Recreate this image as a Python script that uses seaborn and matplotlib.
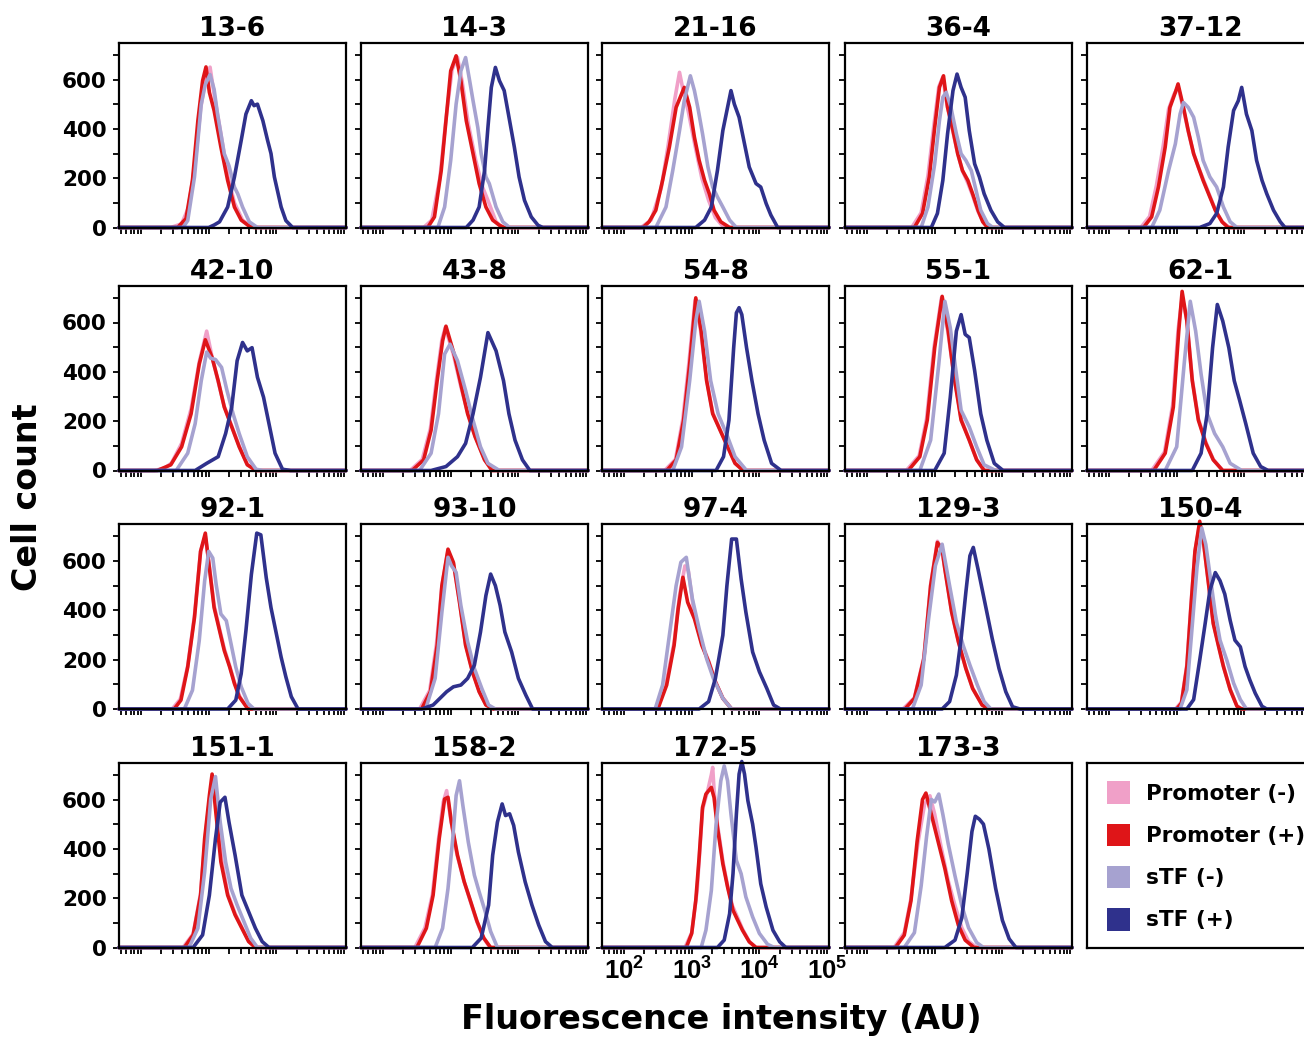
import numpy as np
import pandas as pd
import matplotlib
matplotlib.use("Agg")
import matplotlib.pyplot as plt
import seaborn as sns
from matplotlib.patches import Patch
from matplotlib.ticker import LogLocator, NullFormatter, FixedLocator
from matplotlib import font_manager

# ---------------------------------------------------------------- data
CLONES = ["13-6", "14-3", "21-16", "36-4", "37-12",
          "42-10", "43-8", "54-8", "55-1", "62-1",
          "92-1", "93-10", "97-4", "129-3", "150-4",
          "151-1", "158-2", "172-5", "173-3"]

SERIES = ["Promoter (-)", "Promoter (+)", "sTF (-)", "sTF (+)"]
COLORS = ["#F0A0C8", "#DF1518", "#A6A2D0", "#2F318C"]

# histogram outlines: (log10 fluorescence, cell count)
PROMOTER_NEG = {
    "13-6": [(2.44, 0), (2.6, 15), (2.7, 80), (2.8, 260), (2.88, 480), (2.95, 600), (3.02, 650), (3.08, 540), (3.18, 380), (3.28, 210), (3.38, 100), (3.5, 30), (3.62, 5), (3.7, 0)],
    "14-3": [(2.6, 0), (2.72, 30), (2.84, 200), (2.93, 440), (3.02, 640), (3.1, 690), (3.17, 590), (3.26, 420), (3.37, 272), (3.47, 164), (3.55, 110), (3.67, 23), (3.77, 0)],
    "21-16": [(2.25, 0), (2.4, 30), (2.55, 160), (2.65, 330), (2.75, 520), (2.82, 629), (2.87, 560), (2.95, 470), (3.05, 330), (3.15, 200), (3.25, 110), (3.35, 40), (3.45, 8), (3.55, 0)],
    "36-4": [(2.66, 0), (2.8, 60), (2.9, 210), (2.99, 420), (3.06, 570), (3.12, 610), (3.18, 500), (3.26, 400), (3.34, 300), (3.41, 230), (3.49, 180), (3.56, 130), (3.64, 65), (3.72, 20), (3.8, 0)],
    "37-12": [(2.47, 0), (2.6, 45), (2.7, 170), (2.8, 330), (2.88, 480), (2.96, 540), (3.02, 570), (3.1, 480), (3.17, 390), (3.25, 300), (3.32, 245), (3.4, 190), (3.48, 135), (3.58, 65), (3.68, 20), (3.78, 0)],
    "42-10": [(2.2, 0), (2.35, 10), (2.45, 30), (2.6, 110), (2.74, 250), (2.86, 440), (2.97, 565), (3.05, 460), (3.14, 360), (3.23, 260), (3.34, 180), (3.45, 100), (3.57, 25), (3.7, 0)],
    "43-8": [(2.4, 0), (2.58, 45), (2.7, 170), (2.79, 370), (2.87, 530), (2.92, 580), (3.04, 470), (3.15, 340), (3.25, 235), (3.36, 140), (3.5, 45), (3.62, 0)],
    "54-8": [(2.6, 0), (2.76, 45), (2.87, 210), (2.96, 440), (3.05, 690), (3.13, 570), (3.22, 370), (3.31, 235), (3.42, 165), (3.53, 98), (3.64, 30), (3.76, 0)],
    "55-1": [(2.58, 0), (2.77, 60), (2.88, 210), (2.99, 500), (3.1, 700), (3.19, 570), (3.28, 395), (3.39, 210), (3.51, 125), (3.62, 45), (3.74, 0)],
    "62-1": [(2.63, 0), (2.82, 75), (2.94, 265), (3.02, 570), (3.08, 700), (3.15, 610), (3.23, 370), (3.32, 210), (3.43, 115), (3.54, 45), (3.68, 0)],
    "92-1": [(2.46, 0), (2.58, 40), (2.69, 175), (2.79, 380), (2.88, 640), (2.95, 700), (3.01, 580), (3.08, 420), (3.16, 325), (3.23, 245), (3.31, 175), (3.38, 108), (3.46, 50), (3.58, 0)],
    "93-10": [(2.54, 0), (2.69, 75), (2.79, 265), (2.87, 500), (2.96, 640), (3.04, 590), (3.13, 435), (3.22, 262), (3.32, 155), (3.42, 72), (3.52, 18), (3.63, 0)],
    "97-4": [(2.47, 0), (2.62, 100), (2.74, 270), (2.82, 460), (2.9, 580), (2.95, 560), (3.04, 380), (3.15, 265), (3.25, 195), (3.35, 112), (3.46, 44), (3.59, 0)],
    "129-3": [(2.53, 0), (2.7, 45), (2.84, 210), (2.94, 505), (3.04, 680), (3.1, 650), (3.15, 570), (3.25, 395), (3.35, 275), (3.46, 166), (3.56, 85), (3.7, 17), (3.8, 0)],
    "150-4": [(2.98, 0), (3.07, 28), (3.15, 180), (3.21, 420), (3.27, 640), (3.34, 750), (3.4, 665), (3.47, 510), (3.54, 350), (3.62, 256), (3.69, 175), (3.79, 80), (3.89, 12), (3.96, 0)],
    "151-1": [(2.62, 0), (2.77, 55), (2.88, 220), (2.95, 450), (3.02, 620), (3.07, 680), (3.12, 560), (3.19, 360), (3.28, 220), (3.39, 138), (3.49, 82), (3.59, 26), (3.69, 0)],
    "158-2": [(2.47, 0), (2.62, 80), (2.73, 215), (2.82, 440), (2.89, 590), (2.94, 636), (3.0, 520), (3.09, 380), (3.19, 275), (3.27, 205), (3.38, 110), (3.48, 40), (3.58, 0)],
    "172-5": [(2.9, 0), (3.0, 60), (3.08, 230), (3.16, 560), (3.24, 640), (3.29, 700), (3.31, 730), (3.33, 640), (3.38, 500), (3.46, 350), (3.53, 250), (3.6, 170), (3.68, 120), (3.75, 75), (3.85, 25), (3.95, 0)],
    "173-3": [(2.4, 0), (2.55, 60), (2.65, 200), (2.75, 420), (2.85, 580), (2.93, 615), (3.0, 540), (3.1, 400), (3.2, 270), (3.3, 170), (3.4, 80), (3.5, 25), (3.62, 0)],
}

PROMOTER_POS = {
    "13-6": [(2.54, 0), (2.665, 36), (2.76, 191), (2.84, 433), (2.91, 595), (2.96, 651), (3.01, 548), (3.08, 474), (3.18, 326), (3.28, 191), (3.38, 83), (3.48, 30), (3.6, 5), (3.67, 0)],
    "14-3": [(2.66, 0), (2.76, 43), (2.86, 231), (2.93, 433), (3.0, 635), (3.08, 696), (3.15, 595), (3.23, 433), (3.33, 299), (3.42, 178), (3.52, 83), (3.62, 30), (3.72, 9), (3.79, 0)],
    "21-16": [(2.28, 0), (2.37, 23), (2.47, 70), (2.57, 191), (2.67, 326), (2.77, 487), (2.89, 568), (2.97, 487), (3.04, 366), (3.11, 272), (3.19, 191), (3.26, 137), (3.33, 70), (3.43, 23), (3.56, 0)],
    "36-4": [(2.7, 0), (2.82, 57), (2.92, 205), (3.0, 406), (3.07, 568), (3.13, 615), (3.19, 487), (3.27, 393), (3.34, 299), (3.41, 231), (3.49, 191), (3.56, 137), (3.64, 70), (3.71, 23), (3.78, 0)],
    "37-12": [(2.51, 0), (2.63, 43), (2.73, 164), (2.83, 326), (2.9, 487), (2.98, 548), (3.02, 582), (3.1, 487), (3.17, 393), (3.25, 299), (3.32, 245), (3.39, 191), (3.47, 137), (3.57, 70), (3.67, 23), (3.76, 0)],
    "42-10": [(2.24, 0), (2.44, 23), (2.6, 96), (2.74, 230), (2.86, 431), (2.95, 530), (3.05, 458), (3.14, 364), (3.23, 257), (3.34, 177), (3.45, 96), (3.57, 23), (3.7, 0)],
    "43-8": [(2.43, 0), (2.6, 43), (2.71, 163), (2.8, 364), (2.88, 525), (2.93, 585), (3.05, 472), (3.16, 338), (3.25, 230), (3.36, 137), (3.5, 43), (3.61, 0)],
    "54-8": [(2.63, 0), (2.77, 43), (2.88, 204), (2.97, 431), (3.06, 700), (3.14, 565), (3.22, 364), (3.31, 230), (3.42, 163), (3.53, 96), (3.64, 29), (3.76, 0)],
    "55-1": [(2.61, 0), (2.78, 56), (2.89, 204), (3.0, 498), (3.11, 706), (3.2, 565), (3.28, 391), (3.39, 204), (3.51, 123), (3.62, 43), (3.73, 0)],
    "62-1": [(2.66, 0), (2.83, 70), (2.95, 257), (3.03, 565), (3.08, 726), (3.15, 606), (3.23, 364), (3.32, 204), (3.43, 110), (3.54, 43), (3.68, 0)],
    "92-1": [(2.49, 0), (2.59, 36), (2.69, 170), (2.79, 371), (2.88, 639), (2.95, 713), (3.01, 572), (3.08, 411), (3.16, 318), (3.23, 237), (3.31, 170), (3.38, 103), (3.45, 50), (3.58, 0)],
    "93-10": [(2.57, 0), (2.7, 70), (2.8, 258), (2.87, 500), (2.96, 648), (3.04, 594), (3.13, 433), (3.22, 258), (3.32, 151), (3.42, 70), (3.52, 16), (3.63, 0)],
    "97-4": [(2.5, 0), (2.63, 97), (2.74, 258), (2.8, 406), (2.87, 534), (2.94, 433), (3.04, 366), (3.15, 258), (3.25, 191), (3.35, 110), (3.46, 43), (3.59, 0)],
    "129-3": [(2.56, 0), (2.7, 43), (2.84, 204), (2.94, 500), (3.04, 675), (3.11, 648), (3.15, 567), (3.25, 393), (3.35, 272), (3.46, 164), (3.56, 83), (3.7, 16), (3.8, 0)],
    "150-4": [(3.0, 0), (3.07, 24), (3.15, 172), (3.21, 413), (3.27, 640), (3.34, 761), (3.4, 667), (3.47, 507), (3.54, 346), (3.62, 252), (3.69, 172), (3.79, 78), (3.89, 11), (3.96, 0)],
    "151-1": [(2.64, 0), (2.77, 51), (2.88, 212), (2.94, 441), (3.01, 616), (3.05, 703), (3.11, 535), (3.18, 347), (3.28, 212), (3.39, 132), (3.49, 78), (3.59, 24), (3.69, 0)],
    "158-2": [(2.5, 0), (2.64, 78), (2.74, 212), (2.83, 441), (2.91, 602), (2.96, 609), (3.01, 508), (3.1, 374), (3.2, 266), (3.28, 199), (3.39, 105), (3.49, 38), (3.59, 0)],
    "172-5": [(2.92, 0), (3.0, 57), (3.06, 191), (3.11, 366), (3.16, 568), (3.21, 622), (3.29, 649), (3.33, 608), (3.38, 487), (3.46, 339), (3.53, 245), (3.61, 151), (3.68, 110), (3.75, 70), (3.85, 23), (3.95, 0)],
    "173-3": [(2.42, 0), (2.55, 50), (2.65, 190), (2.74, 430), (2.82, 600), (2.87, 626), (2.95, 540), (3.05, 430), (3.15, 320), (3.25, 190), (3.35, 90), (3.45, 30), (3.58, 0)],
}

STF_NEG = {
    "13-6": [(2.62, 0), (2.69, 28), (2.79, 205), (2.89, 500), (2.95, 580), (3.02, 620), (3.08, 560), (3.13, 460), (3.23, 299), (3.3, 250), (3.38, 164), (3.43, 136), (3.5, 83), (3.6, 23), (3.72, 0)],
    "14-3": [(2.81, 0), (2.91, 83), (3.0, 272), (3.08, 500), (3.15, 635), (3.22, 689), (3.28, 595), (3.33, 514), (3.4, 406), (3.45, 299), (3.52, 205), (3.57, 178), (3.67, 83), (3.77, 23), (3.87, 0)],
    "21-16": [(2.47, 0), (2.62, 83), (2.72, 231), (2.82, 393), (2.89, 514), (2.98, 615), (3.04, 555), (3.09, 487), (3.16, 380), (3.24, 245), (3.31, 164), (3.38, 124), (3.46, 83), (3.56, 30), (3.66, 0)],
    "36-4": [(2.8, 0), (2.9, 83), (3.0, 258), (3.07, 433), (3.12, 528), (3.17, 548), (3.24, 487), (3.32, 380), (3.39, 299), (3.46, 272), (3.54, 231), (3.61, 151), (3.68, 70), (3.78, 16), (3.86, 0)],
    "37-12": [(2.63, 0), (2.75, 70), (2.88, 231), (2.98, 339), (3.05, 460), (3.1, 507), (3.17, 487), (3.25, 447), (3.32, 366), (3.39, 272), (3.49, 205), (3.59, 164), (3.69, 83), (3.79, 23), (3.89, 0)],
    "42-10": [(2.52, 0), (2.69, 70), (2.8, 190), (2.89, 364), (2.97, 480), (3.03, 455), (3.1, 450), (3.19, 418), (3.27, 324), (3.36, 230), (3.45, 150), (3.57, 56), (3.7, 5), (3.8, 0)],
    "43-8": [(2.54, 0), (2.71, 70), (2.82, 230), (2.91, 472), (2.99, 512), (3.1, 445), (3.22, 324), (3.33, 204), (3.44, 96), (3.55, 29), (3.72, 0)],
    "54-8": [(2.72, 0), (2.85, 96), (2.97, 364), (3.06, 605), (3.11, 686), (3.19, 565), (3.28, 364), (3.39, 230), (3.53, 137), (3.64, 56), (3.81, 0)],
    "55-1": [(2.78, 0), (2.94, 123), (3.06, 431), (3.15, 686), (3.23, 579), (3.32, 391), (3.39, 244), (3.51, 177), (3.62, 96), (3.73, 23), (3.9, 0)],
    "62-1": [(2.83, 0), (3.0, 96), (3.11, 431), (3.2, 686), (3.28, 565), (3.36, 391), (3.45, 230), (3.56, 150), (3.68, 96), (3.79, 29), (3.96, 0)],
    "92-1": [(2.64, 0), (2.76, 76), (2.86, 277), (2.94, 519), (3.0, 639), (3.06, 612), (3.11, 505), (3.18, 385), (3.26, 358), (3.33, 264), (3.4, 170), (3.48, 90), (3.58, 23), (3.67, 0)],
    "93-10": [(2.63, 0), (2.77, 124), (2.87, 393), (2.96, 615), (3.01, 581), (3.08, 554), (3.15, 420), (3.25, 272), (3.35, 164), (3.46, 83), (3.56, 16), (3.66, 0)],
    "97-4": [(2.46, 0), (2.57, 97), (2.67, 299), (2.77, 500), (2.84, 595), (2.92, 615), (3.01, 447), (3.11, 325), (3.22, 204), (3.32, 124), (3.46, 43), (3.59, 0)],
    "129-3": [(2.67, 0), (2.8, 97), (2.91, 366), (3.01, 581), (3.11, 668), (3.22, 500), (3.32, 352), (3.42, 258), (3.52, 178), (3.63, 97), (3.73, 30), (3.83, 0)],
    "150-4": [(3.05, 0), (3.15, 78), (3.22, 306), (3.3, 574), (3.37, 734), (3.43, 667), (3.49, 547), (3.57, 386), (3.64, 279), (3.74, 198), (3.84, 105), (3.94, 38), (4.03, 0)],
    "151-1": [(2.71, 0), (2.84, 78), (2.94, 306), (3.03, 602), (3.1, 693), (3.17, 508), (3.25, 347), (3.33, 239), (3.42, 172), (3.52, 105), (3.62, 38), (3.72, 0)],
    "158-2": [(2.77, 0), (2.88, 78), (2.96, 239), (3.03, 441), (3.08, 616), (3.13, 676), (3.18, 575), (3.26, 427), (3.35, 293), (3.42, 226), (3.51, 145), (3.59, 65), (3.69, 0)],
    "172-5": [(3.14, 0), (3.21, 70), (3.29, 231), (3.36, 500), (3.43, 676), (3.48, 736), (3.53, 676), (3.58, 541), (3.66, 353), (3.73, 299), (3.8, 205), (3.9, 124), (4.0, 57), (4.12, 13), (4.22, 0)],
    "173-3": [(2.55, 0), (2.7, 60), (2.8, 250), (2.88, 450), (2.95, 600), (3.0, 590), (3.06, 622), (3.12, 540), (3.2, 420), (3.3, 290), (3.4, 170), (3.5, 80), (3.62, 20), (3.72, 0)],
}

STF_POS = {
    "13-6": [(3.0, 0), (3.08, 10), (3.16, 23), (3.28, 83), (3.38, 205), (3.48, 353), (3.55, 460), (3.63, 514), (3.67, 494), (3.72, 500), (3.8, 433), (3.87, 353), (3.92, 300), (3.97, 205), (4.07, 83), (4.14, 28), (4.24, 0)],
    "14-3": [(3.23, 0), (3.33, 30), (3.42, 83), (3.5, 231), (3.55, 406), (3.6, 568), (3.66, 649), (3.72, 595), (3.79, 555), (3.87, 433), (3.94, 326), (4.01, 205), (4.09, 110), (4.19, 43), (4.29, 9), (4.36, 0)],
    "21-16": [(3.06, 0), (3.19, 30), (3.29, 83), (3.38, 231), (3.46, 393), (3.52, 474), (3.58, 555), (3.63, 500), (3.7, 447), (3.78, 339), (3.85, 245), (3.95, 178), (4.02, 164), (4.1, 97), (4.17, 50), (4.27, 0)],
    "36-4": [(2.95, 0), (3.04, 57), (3.12, 191), (3.19, 380), (3.27, 555), (3.33, 622), (3.39, 568), (3.45, 528), (3.51, 393), (3.59, 258), (3.66, 205), (3.73, 137), (3.83, 70), (3.93, 23), (4.03, 0)],
    "37-12": [(3.34, 0), (3.49, 16), (3.59, 57), (3.69, 164), (3.76, 326), (3.84, 474), (3.91, 514), (3.96, 568), (4.03, 460), (4.11, 393), (4.18, 272), (4.26, 191), (4.33, 137), (4.43, 70), (4.53, 23), (4.6, 0)],
    "42-10": [(2.8, 0), (2.97, 29), (3.14, 56), (3.25, 150), (3.34, 257), (3.42, 445), (3.5, 519), (3.57, 485), (3.64, 498), (3.72, 378), (3.81, 297), (3.9, 177), (3.98, 70), (4.09, 5), (4.21, 0)],
    "43-8": [(2.71, 0), (2.93, 16), (3.1, 56), (3.22, 110), (3.33, 230), (3.44, 378), (3.55, 559), (3.67, 485), (3.78, 364), (3.86, 230), (3.95, 123), (4.06, 43), (4.17, 0)],
    "54-8": [(3.36, 0), (3.47, 56), (3.55, 204), (3.62, 498), (3.66, 639), (3.7, 660), (3.74, 632), (3.81, 498), (3.89, 364), (3.98, 230), (4.07, 123), (4.18, 29), (4.32, 0)],
    "55-1": [(3.0, 0), (3.14, 70), (3.23, 297), (3.32, 565), (3.39, 632), (3.45, 552), (3.51, 539), (3.59, 405), (3.68, 230), (3.77, 123), (3.88, 29), (4.01, 0)],
    "62-1": [(3.23, 0), (3.36, 70), (3.45, 230), (3.53, 498), (3.6, 673), (3.68, 606), (3.77, 498), (3.85, 364), (3.93, 284), (4.02, 190), (4.13, 70), (4.24, 16), (4.35, 0)],
    "92-1": [(3.28, 0), (3.4, 36), (3.48, 143), (3.55, 318), (3.63, 545), (3.71, 713), (3.77, 706), (3.85, 532), (3.92, 411), (4.0, 304), (4.07, 210), (4.14, 130), (4.22, 50), (4.32, 0)],
    "93-10": [(2.57, 0), (2.74, 16), (2.84, 43), (2.94, 70), (3.04, 90), (3.15, 97), (3.25, 124), (3.35, 178), (3.44, 312), (3.52, 460), (3.59, 547), (3.66, 500), (3.73, 420), (3.8, 312), (3.9, 231), (4.0, 124), (4.11, 56), (4.21, 0)],
    "97-4": [(3.11, 0), (3.25, 30), (3.35, 124), (3.46, 299), (3.52, 500), (3.59, 689), (3.66, 689), (3.73, 527), (3.8, 393), (3.9, 231), (4.0, 151), (4.11, 83), (4.21, 16), (4.31, 0)],
    "129-3": [(3.11, 0), (3.22, 30), (3.32, 137), (3.39, 285), (3.46, 473), (3.52, 621), (3.57, 655), (3.64, 567), (3.74, 433), (3.85, 285), (3.95, 164), (4.05, 70), (4.15, 9), (4.26, 0)],
    "150-4": [(3.15, 0), (3.25, 38), (3.34, 198), (3.42, 346), (3.49, 480), (3.57, 553), (3.64, 520), (3.71, 466), (3.79, 359), (3.86, 279), (3.94, 252), (4.01, 172), (4.08, 118), (4.16, 64), (4.26, 11), (4.33, 0)],
    "151-1": [(2.77, 0), (2.91, 51), (3.01, 212), (3.1, 441), (3.17, 589), (3.24, 609), (3.3, 508), (3.39, 374), (3.49, 212), (3.59, 145), (3.69, 78), (3.79, 24), (3.89, 0)],
    "158-2": [(3.32, 0), (3.45, 38), (3.56, 172), (3.62, 374), (3.69, 508), (3.76, 582), (3.81, 535), (3.87, 542), (3.93, 495), (4.0, 387), (4.1, 266), (4.2, 172), (4.3, 91), (4.4, 24), (4.5, 0)],
    "172-5": [(3.38, 0), (3.48, 30), (3.56, 137), (3.61, 299), (3.66, 541), (3.7, 703), (3.74, 754), (3.78, 703), (3.83, 595), (3.9, 500), (3.95, 406), (4.02, 258), (4.1, 164), (4.2, 70), (4.3, 23), (4.39, 0)],
    "173-3": [(3.15, 0), (3.3, 30), (3.4, 120), (3.48, 300), (3.55, 470), (3.6, 532), (3.66, 520), (3.72, 500), (3.8, 400), (3.9, 240), (4.0, 110), (4.1, 35), (4.2, 0)],
}

Y_MAJOR = [0, 200, 400, 600]
Y_MINOR = [100, 300, 500, 700]
LABELED_PANEL = "172-5"

# ---------------------------------------------------------------- style
sns.set_style("ticks")
plt.rcParams["font.family"] = ["DejaVu Sans"]
plt.rcParams["font.weight"] = "bold"
plt.rcParams["axes.labelweight"] = "bold"
for key in ["text.color", "axes.labelcolor", "xtick.color", "ytick.color",
            "axes.edgecolor"]:
    plt.rcParams[key] = "black"

# the decade labels use a narrower sans face when one is available
installed = {f.name for f in font_manager.fontManager.ttflist}
decade_family = next((f for f in ["Liberation Sans Narrow", "Liberation Sans", "Arial"]
                      if f in installed), "DejaVu Sans")
decade_size = 20 if decade_family == "Liberation Sans Narrow" else 18.5

XMIN, XMAX = 10 ** 1.675, 10 ** 5.028
YMAX = 750

W, H = 1304, 1041
fig = plt.figure(figsize=(W / 100, H / 100), dpi=100)

col_left = [119, 361, 602, 845, 1087]
row_bottom = [227.5, 470.5, 709.0, 947.5]
panel_w, panel_h = 227, 185


def make_axes(r, c):
    x0 = col_left[c] / W
    y0 = 1 - row_bottom[r] / H
    return fig.add_axes([x0, y0, panel_w / W, panel_h / H])


# long-form table of all outlines, padded with empty bins out to the axis limits
rows = []
for series, table in zip(SERIES, [PROMOTER_NEG, PROMOTER_POS, STF_NEG, STF_POS]):
    for clone, pts in table.items():
        logs = [np.log10(XMIN)] + [p[0] for p in pts] + [np.log10(XMAX)]
        counts = [0] + [p[1] for p in pts] + [0]
        for k, (lx, cnt) in enumerate(zip(logs, counts)):
            rows.append({"clone": clone, "series": series, "order": k,
                         "intensity": 10 ** lx, "count": cnt})
df = pd.DataFrame(rows)

for i, clone in enumerate(CLONES):
    r, c = divmod(i, 5)
    ax = make_axes(r, c)
    sub = df[df["clone"] == clone]
    sns.lineplot(data=sub, x="intensity", y="count", hue="series",
                 hue_order=SERIES, palette=COLORS, sort=False, estimator=None,
                 linewidth=2.6, legend=False, ax=ax)
    for ln in ax.lines:
        ln.set_clip_on(False)
        ln.set_solid_joinstyle("round")
    ax.set_xscale("log")
    ax.set_xlim(XMIN, XMAX)
    ax.set_ylim(0, YMAX)
    ax.xaxis.set_major_locator(LogLocator(base=10, numticks=10))
    ax.xaxis.set_minor_locator(LogLocator(base=10, subs=np.arange(2, 10), numticks=12))
    ax.xaxis.set_minor_formatter(NullFormatter())
    ax.yaxis.set_major_locator(FixedLocator(Y_MAJOR))
    ax.yaxis.set_minor_locator(FixedLocator(Y_MINOR))
    ax.set_xlabel("")
    ax.set_ylabel("")
    ax.tick_params(axis="both", which="both", direction="out", width=1.3,
                   color="black", length=4)
    ax.tick_params(axis="y", labelsize=15.5, pad=5, labelleft=(c == 0))
    ax.tick_params(axis="x", pad=3, labelsize=decade_size,
                   labelfontfamily=decade_family,
                   labelbottom=(clone == LABELED_PANEL))
    for s in ax.spines.values():
        s.set_visible(True)
        s.set_linewidth(1.6)
        s.set_color("black")
    ax.set_title(clone, fontsize=19, fontweight="bold", pad=5)

# legend panel in the last grid cell
lax = make_axes(3, 4)
lax.set_xticks([])
lax.set_yticks([])
for s in lax.spines.values():
    s.set_visible(True)
    s.set_linewidth(1.6)
handles = [Patch(facecolor=col, edgecolor="none", label=lab)
           for col, lab in zip(COLORS, SERIES)]
lax.legend(handles=handles, loc="upper left", bbox_to_anchor=(0.089, 0.898),
           frameon=False, fontsize=15.5, handlelength=1.08, handleheight=1.25,
           handletextpad=0.72, labelspacing=0.9, borderpad=0, borderaxespad=0)

fig.text(721 / W, 1 - 1020 / H, "Fluorescence intensity (AU)",
         ha="center", va="center", fontsize=24, fontweight="bold")
fig.text(28 / W, 1 - 497 / H, "Cell count", rotation=90,
         ha="center", va="center", fontsize=24, fontweight="bold")

fig.savefig("out.png", dpi=100)
